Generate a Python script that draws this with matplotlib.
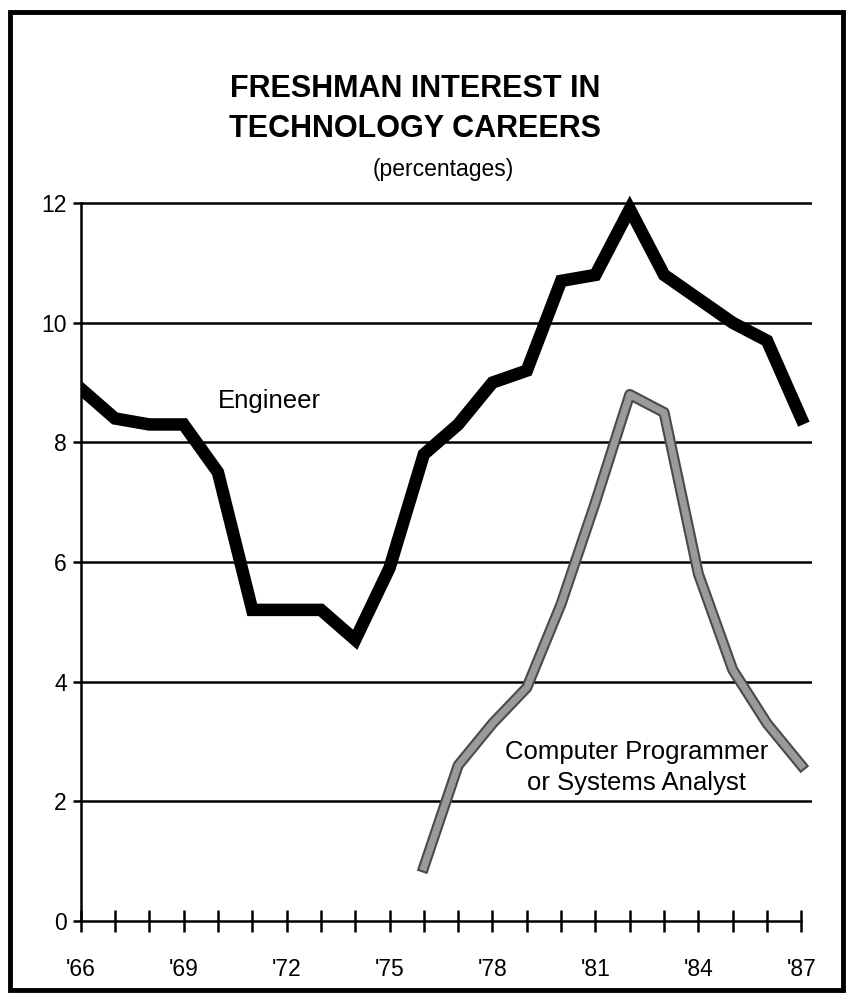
import matplotlib
matplotlib.use('Agg')
import matplotlib.pyplot as plt
from matplotlib.patches import Rectangle
import matplotlib.patheffects as pe

plt.rcParams['font.family'] = ['Liberation Sans', 'DejaVu Sans']

# Dữ liệu (phần trăm)
years = list(range(66, 88))
engineer = [8.9, 8.4, 8.3, 8.3, 7.5, 5.2, 5.2, 5.2, 4.7, 5.9, 7.8,
            8.3, 9.0, 9.2, 10.7, 10.8, 11.9, 10.8, 10.4, 10.0, 9.7, 8.4]
prog_years = list(range(76, 88))
programmer = [0.9, 2.6, 3.3, 3.9, 5.3, 7.0, 8.8, 8.5, 5.8, 4.2, 3.3, 2.6]

label_years = [66, 69, 72, 75, 78, 81, 84, 87]
label_text = ["'66", "'69", "'72", "'75", "'78", "'81", "'84", "'87"]
y_ticks = [0, 2, 4, 6, 8, 10, 12]

fig = plt.figure(figsize=(8.49, 10.01), dpi=100)
ax = fig.add_axes([0.095, 0.08, 0.861, 0.735])

# Đường lưới ngang
for yv in y_ticks[1:]:
    ax.axhline(yv, color='black', lw=1.8, zorder=1)

ax.plot(years, engineer, color='black', lw=9, solid_joinstyle='miter', zorder=3)

ax.plot(prog_years, programmer, color='#9a9a9a', lw=5, zorder=4,
        path_effects=[pe.Stroke(linewidth=8, foreground='#4a4a4a'), pe.Normal()])

ax.text(71.5, 8.7, 'Engineer', fontsize=18.5, ha='center', va='center')
ax.text(82.2, 2.57, 'Computer Programmer\nor Systems Analyst', fontsize=18.5,
        ha='center', va='center', linespacing=1.38)

ax.set_xlim(66, 87.3)
ax.set_ylim(0, 12.3)

for s in ['top', 'right']:
    ax.spines[s].set_visible(False)
ax.spines['left'].set_bounds(0, 12)
ax.spines['bottom'].set_bounds(66, 87)
ax.spines['left'].set_linewidth(1.8)
ax.spines['bottom'].set_linewidth(1.8)

ax.set_yticks(y_ticks)
ax.tick_params(axis='y', direction='out', length=6, width=1.8, labelsize=16.5, pad=4)
ax.set_xticks(label_years)
ax.set_xticklabels(label_text)
ax.set_xticks(years, minor=True)
ax.tick_params(axis='x', which='both', direction='inout', length=16, width=1.8)
ax.tick_params(axis='x', which='major', labelsize=16.5, pad=19)

fig.text(0.489, 0.911, 'FRESHMAN INTEREST IN', fontsize=22, fontweight='bold',
         ha='center', va='center')
fig.text(0.489, 0.871, 'TECHNOLOGY CAREERS', fontsize=22, fontweight='bold',
         ha='center', va='center')
fig.text(0.522, 0.831, '(percentages)', fontsize=16.5, ha='center', va='center')

fig.add_artist(Rectangle((0.012, 0.011), 0.981, 0.977, transform=fig.transFigure,
                         fill=False, lw=3.5, color='black'))

plt.savefig('out.png', dpi=100)
